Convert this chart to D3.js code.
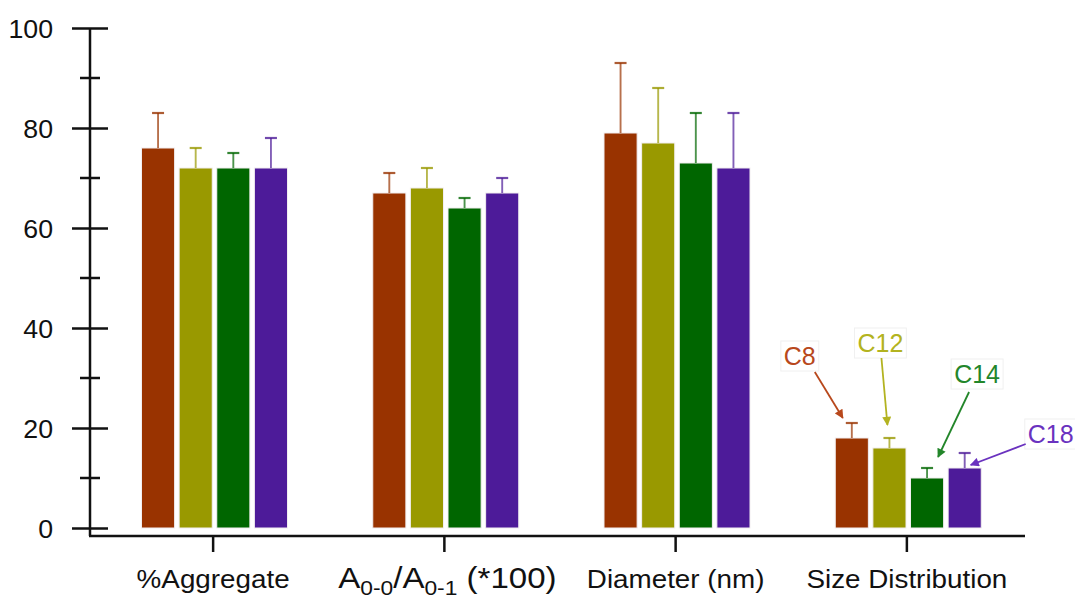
<!DOCTYPE html>
<html>
<head>
<meta charset="utf-8">
<script src="https://cdn.jsdelivr.net/npm/d3@7"></script>
<style>
  html, body { margin: 0; padding: 0; background: #fff; }
  svg { display: block; font-family: "Liberation Sans", Arial, Helvetica, sans-serif; }
</style>
</head>
<body>
<svg id="chart" width="1075" height="600"></svg>
<script>
// Measured properties (categories) and alkyl chain series
const categories = ["%Aggregate", "A0-0/A0-1 (*100)", "Diameter (nm)", "Size Distribution"];
const series = ["C8", "C12", "C14", "C18"];

// Mean values per series, one entry per category
const valuesC8  = [76, 67, 79, 18];
const valuesC12 = [72, 68, 77, 16];
const valuesC14 = [72, 64, 73, 10];
const valuesC18 = [72, 67, 72, 12];

// Upper end of each error bar
const errTopC8  = [83, 71, 93, 21];
const errTopC12 = [76, 72, 88, 18];
const errTopC14 = [75, 66, 83, 12];
const errTopC18 = [78, 70, 83, 15];

const yMajorTicks = [0, 20, 40, 60, 80, 100];
const yMinorTicks = [10, 30, 50, 70, 90];

const barColors   = ["#993300", "#999900", "#006600", "#4d1b99"];
const labelColors = ["#b8481c", "#b3b320", "#23862a", "#6a32bf"];

const valueTable = [valuesC8, valuesC12, valuesC14, valuesC18];
const errTable   = [errTopC8, errTopC12, errTopC14, errTopC18];

const svg = d3.select("#chart");

const axisX = 90, axisBottom = 536;
const y = d3.scaleLinear().domain([0, 100]).range([528, 28]);
const x0 = d3.scaleBand().domain(categories).range([97.5, 1022.5]).padding(0);
const x1 = d3.scaleBand().domain(series).range([44, 190]).paddingInner(0.12).paddingOuter(0);

// Bars and error bars
const groups = svg.append("g").selectAll("g")
  .data(categories)
  .join("g")
  .attr("transform", d => `translate(${x0(d)},0)`);

series.forEach((s, si) => {
  const bw = x1.bandwidth();
  groups.append("rect")
    .attr("x", x1(s))
    .attr("y", (d, ci) => y(valueTable[si][ci]))
    .attr("width", bw)
    .attr("height", (d, ci) => y(0) - y(valueTable[si][ci]))
    .attr("fill", barColors[si])
    .attr("stroke", "#f2eef0")
    .attr("stroke-width", 1);

  const cx = x1(s) + bw / 2;
  groups.append("line")
    .attr("x1", cx).attr("x2", cx)
    .attr("y1", (d, ci) => y(valueTable[si][ci]))
    .attr("y2", (d, ci) => y(errTable[si][ci]))
    .attr("stroke", barColors[si])
    .attr("stroke-opacity", 0.7)
    .attr("stroke-width", 1.9);
  groups.append("line")
    .attr("x1", cx - 6).attr("x2", cx + 6)
    .attr("y1", (d, ci) => y(errTable[si][ci]))
    .attr("y2", (d, ci) => y(errTable[si][ci]))
    .attr("stroke", barColors[si])
    .attr("stroke-opacity", 0.8)
    .attr("stroke-width", 2.2);
});

// Y axis: long major ticks, shorter minor ticks, both crossing the axis line
const yAxisMajor = d3.axisLeft(y).tickValues(yMajorTicks).tickSize(0).tickFormat(d3.format("d"));
const yg = svg.append("g").attr("transform", `translate(${axisX},0)`).call(yAxisMajor);
yg.select(".domain").remove();
yg.selectAll(".tick text")
  .attr("x", 0).attr("dy", null).attr("y", 9)
  .attr("font-size", 25).attr("fill", "#111")
  .attr("font-family", "'Liberation Sans', Arial, sans-serif")
  .attr("transform", "translate(-37,0) scale(1.07,1)");
yg.selectAll(".tick").append("line")
  .attr("x1", -18).attr("x2", 18).attr("stroke", "#111").attr("stroke-width", 2.5);

svg.append("g").selectAll("line")
  .data(yMinorTicks)
  .join("line")
  .attr("x1", axisX - 10).attr("x2", axisX + 10)
  .attr("y1", d => y(d)).attr("y2", d => y(d))
  .attr("stroke", "#111").attr("stroke-width", 2.5);

svg.append("line")
  .attr("x1", axisX).attr("x2", axisX)
  .attr("y1", y(100)).attr("y2", axisBottom)
  .attr("stroke", "#111").attr("stroke-width", 2.5);

// X axis
svg.append("line")
  .attr("x1", axisX - 1).attr("x2", 1025)
  .attr("y1", axisBottom).attr("y2", axisBottom)
  .attr("stroke", "#111").attr("stroke-width", 2.5);

const xAxis = d3.axisBottom(x0).tickSize(16).tickFormat("");
const xg = svg.append("g").attr("transform", `translate(0,${axisBottom})`).call(xAxis);
xg.select(".domain").remove();
xg.selectAll(".tick line").attr("stroke", "#111").attr("stroke-width", 2.5);

// Category labels (the absorbance ratio gets subscripts)
const labelY = 588;
categories.forEach((c, i) => {
  const cx = x0(c) + x0.bandwidth() / 2;
  if (i === 1) {
    const t = svg.append("text")
      .attr("transform", `translate(${cx + 3},${labelY}) scale(1.14,1)`)
      .attr("text-anchor", "middle")
      .attr("font-size", 29).attr("fill", "#111");
    t.append("tspan").text("A");
    t.append("tspan").attr("font-size", 20).attr("dy", 7).text("0-0");
    t.append("tspan").attr("dy", -7).text("/A");
    t.append("tspan").attr("font-size", 20).attr("dy", 7).text("0-1");
    t.append("tspan").attr("dy", -7).text(" (*100)");
  } else {
    svg.append("text")
      .attr("transform", `translate(${cx},${labelY}) scale(1.07,1)`)
      .attr("text-anchor", "middle")
      .attr("font-size", 26).attr("fill", "#111")
      .text(c);
  }
});

// Series callouts on the last group, each arrow pointing at its bar
const lastCat = categories[3];
const calloutOffsets = [
  { lx: -52, ly: -58, sx: -37, sy: -51, tx: -9, ty: -5 },
  { lx: -9,  ly: -86, sx: -8,  sy: -80, tx: -2, ty: -13 },
  { lx: 50,  ly: -85, sx: 42,  sy: -76, tx: 11, ty: -11 },
  { lx: 86,  ly: -10, sx: 61,  sy: -9,  tx: 6,  ty: 12 }
];

const defs = svg.append("defs");
series.forEach((s, si) => {
  defs.append("marker")
    .attr("id", "arrow" + si)
    .attr("viewBox", "0 0 10 10")
    .attr("refX", 9).attr("refY", 5)
    .attr("markerWidth", 6).attr("markerHeight", 5)
    .attr("orient", "auto")
    .append("path")
    .attr("d", "M0,0 L10,5 L0,10 Z")
    .attr("fill", labelColors[si]);
});

series.forEach((s, si) => {
  const bx = x0(lastCat) + x1(s) + x1.bandwidth() / 2;
  const by = y(errTable[si][3]);
  const o = calloutOffsets[si];
  const g = svg.append("g");
  const txt = g.append("text")
    .attr("x", bx + o.lx).attr("y", by + o.ly)
    .attr("text-anchor", "middle")
    .attr("font-size", 25)
    .attr("fill", labelColors[si])
    .text(s);
  const bb = txt.node().getBBox();
  g.insert("rect", "text")
    .attr("x", bb.x - 3).attr("y", bb.y - 1)
    .attr("width", bb.width + 6).attr("height", bb.height + 2)
    .attr("fill", "#fff").attr("stroke", "#f0f0f0").attr("stroke-width", 1);
  g.append("line")
    .attr("x1", bx + o.sx).attr("y1", by + o.sy)
    .attr("x2", bx + o.tx).attr("y2", by + o.ty)
    .attr("stroke", labelColors[si]).attr("stroke-width", 1.8)
    .attr("marker-end", `url(#arrow${si})`);
});
</script>
</body>
</html>
